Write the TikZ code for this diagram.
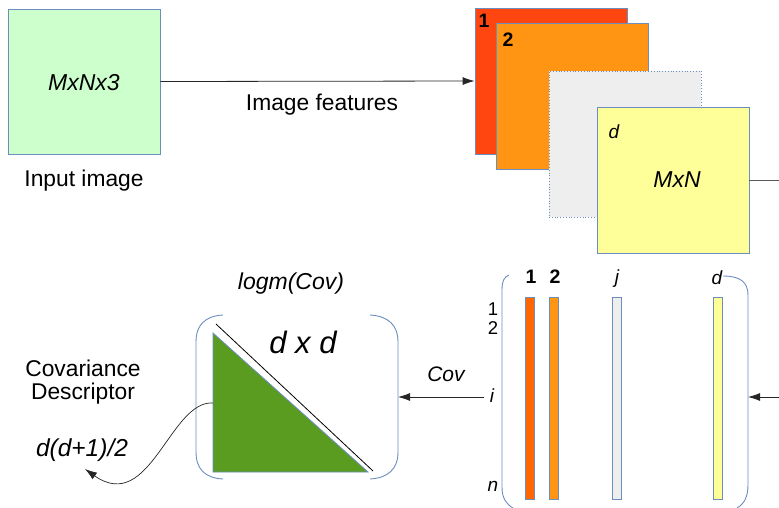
\documentclass[tikz,border=0pt]{standalone}
\usepackage{fontspec}
\setmainfont{Liberation Sans}
\usetikzlibrary{arrows.meta}
\definecolor{bord}{HTML}{6C8EBF}
\definecolor{cgreen}{HTML}{CCFFCC}
\definecolor{cred}{HTML}{FF4611}
\definecolor{corange}{HTML}{FF9512}
\definecolor{cgray}{HTML}{EEEEEE}
\definecolor{cyellow}{HTML}{FFFF99}
\definecolor{cbar}{HTML}{FF6600}
\definecolor{ctri}{HTML}{5A9C1F}
\tikzset{
  fbox/.style={draw=bord, line width=0.8pt, minimum width=152pt, minimum height=146pt, inner sep=0pt},
  bar/.style={draw=bord, line width=0.8pt, minimum width=9pt, minimum height=202pt, inner sep=0pt},
  lbl/.style={inner sep=0pt, font=\fontsize{22.8}{25}\selectfont},
  hand/.style={inner sep=0pt, font=\fontsize{23}{25}\selectfont\itshape},
  bnum/.style={inner sep=0pt, font=\fontsize{19.5}{21}\selectfont\bfseries},
  rnum/.style={inner sep=0pt, font=\fontsize{18.5}{20}\selectfont},
  arr/.style={-{Latex[length=12pt,width=8pt]}, line width=0.8pt, draw=black!85},
  paren/.style={draw=bord, line width=0.9pt},
}
\begin{document}
\begin{tikzpicture}[x=1pt,y=-1pt]
\useasboundingbox (0,0) rectangle (779,507);
% top row
\node[fbox, fill=cgreen, minimum height=145pt] (inp) at (84,81.5) {};
\node[hand] (inpt) at (84,83) {MxNx3};
\node[lbl] (inpl) at (84,181) {Input image};
\node[fbox, fill=cred] (f1) at (551,81) {};
\node[bnum] (f1l) at (484,21) {1};
\node[fbox, fill=corange] (f2) at (572,96) {};
\node[bnum] (f2l) at (508,40) {2};
\node[fbox, fill=cgray, dotted] (fj) at (625,144) {};
\node[fbox, fill=cyellow] (fd) at (673,180) {};
\node[hand, font=\fontsize{19}{20}\selectfont\itshape] (fdl) at (614,132) {d};
\node[hand] (fdt) at (677,180) {MxN};
\draw[arr] (inp.east) -- (f1.west);
\node[lbl] (featl) at (322,105) {Image features};
\coordinate (rtop) at (779,180);
\draw[line width=0.8pt, draw=black!65] (fd.east) -- (rtop);
% matrix of bars
\draw[paren] (509,275) .. controls (504,277) and (502,281) .. (502,290) -- (502,487) .. controls (502,498) and (506,504) .. (513,508);
\draw[paren] (723,276) .. controls (740,276) and (748,282) .. (748,295) -- (748,485) .. controls (748,497) and (744,504) .. (737,508);
\coordinate (matr) at (748,397);
\coordinate (rbot) at (779,397);
\node[bar, fill=cbar] (b1) at (529.5,398) {};
\node[bar, fill=corange] (b2) at (553.5,398) {};
\node[bar, fill=cgray] (bj) at (616.5,398) {};
\node[bar, fill=cyellow] (bd) at (717.5,398) {};
\node[bnum] (b1l) at (531,277) {1};
\node[bnum] (b2l) at (555,277) {2};
\node[hand, font=\fontsize{19}{20}\selectfont\itshape] (bjl) at (617,279) {j};
\node[hand, font=\fontsize{19}{20}\selectfont\itshape] (bdl) at (717,278) {d};
\node[rnum] (r1) at (493,309) {1};
\node[rnum] (r2) at (493,328) {2};
\node[rnum, font=\fontsize{19}{20}\selectfont\itshape] (ri) at (492,396) {i};
\node[rnum, font=\fontsize{19}{20}\selectfont\itshape] (rn) at (493,486) {n};
\draw[arr] (rbot) -- (matr);
% covariance box
\draw[paren] (223,315) .. controls (205,316) and (196,325) .. (196,342) -- (196,452) .. controls (196,469) and (205,478) .. (223,479);
\draw[paren] (370,315) .. controls (388,316) and (398,325) .. (398,342) -- (398,452) .. controls (398,469) and (388,478) .. (370,479);
\coordinate (covr) at (398,397);
\coordinate (ris) at (484,397);
\draw[arr] (ris) -- (covr);
\node[hand, font=\fontsize{21}{23}\selectfont\itshape] (covl) at (446,374) {Cov};
\node[hand] (logl) at (291,284) {logm(Cov)};
\node[hand, font=\fontsize{31}{33}\selectfont\itshape] (dxd) at (303,342) {d x d};
\draw[draw=bord, line width=0.8pt, fill=ctri] (213,333) coordinate (t1) -- (213,472) coordinate (t2) -- (368,472) coordinate (t3) -- cycle;
\draw[line width=0.8pt] (216,324) coordinate (l1) -- (373,471) coordinate (l2);
\node[lbl] (cdl1) at (83,368) {Covariance};
\node[lbl] (cdl2) at (83,394) {Descriptor};
\node[hand, font=\fontsize{24.5}{26}\selectfont\itshape] (dd) at (82,450) {d(d+1)/2};
\coordinate (tl) at (213,403);
\coordinate (ddt) at (85,469);
\draw[arr, line width=0.7pt] (tl) .. controls (170,400) and (150,515) .. (ddt);
\end{tikzpicture}
\end{document}
